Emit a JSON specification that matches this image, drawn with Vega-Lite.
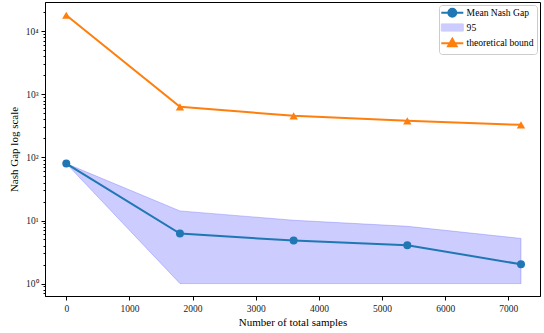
{
  "$schema": "https://vega.github.io/schema/vega-lite/v6.json",
  "width": 495,
  "height": 294,
  "autosize": {"type": "none"},
  "padding": {"left": 45, "top": 2, "right": 4, "bottom": 37},
  "background": "white",
  "config": {
    "font": "Liberation Serif",
    "view": {"stroke": "black", "strokeWidth": 1},
    "axis": {
      "grid": false,
      "domainColor": "black",
      "tickColor": "black",
      "labelColor": "#222",
      "labelFont": "Liberation Serif",
      "labelFontSize": 9.5,
      "titleFont": "Liberation Serif",
      "titleFontSize": 11,
      "titleFontWeight": "normal",
      "titleColor": "black"
    },
    "legend": {
      "orient": "top-right",
      "offset": 3,
      "padding": 3,
      "strokeColor": "#cccccc",
      "fillColor": "white",
      "cornerRadius": 3,
      "labelFont": "Liberation Serif",
      "labelFontSize": 9.6,
      "labelColor": "black",
      "symbolSize": 121,
      "rowPadding": 0.7,
      "labelOffset": 15
    }
  },
  "data": {
    "values": [
      {"samples": 0, "mean": 80, "lo": 80, "hi": 80, "bound": 18000},
      {"samples": 1800, "mean": 6.2, "lo": 1, "hi": 14.2, "bound": 635},
      {"samples": 3600, "mean": 4.8, "lo": 1, "hi": 10.1, "bound": 457},
      {"samples": 5400, "mean": 4.06, "lo": 1, "hi": 8.1, "bound": 381},
      {"samples": 7200, "mean": 2.02, "lo": 1, "hi": 5.2, "bound": 329}
    ]
  },
  "encoding": {
    "x": {
      "field": "samples",
      "type": "quantitative",
      "scale": {"domain": [-337, 7501], "nice": false, "zero": false},
      "axis": {
        "title": "Number of total samples",
        "values": [0, 1000, 2000, 3000, 4000, 5000, 6000, 7000],
        "format": "d",
        "tickSize": 4,
        "labelPadding": 3,
        "titlePadding": 4
      }
    }
  },
  "layer": [
    {
      "mark": {"type": "area", "fill": "blue", "fillOpacity": 0.2, "stroke": "blue", "strokeOpacity": 0.2, "strokeWidth": 1},
      "encoding": {
        "y": {
          "field": "lo",
          "type": "quantitative",
          "scale": {"type": "log", "domain": [0.635, 29200], "nice": false},
          "axis": {
            "title": "Nash Gap log scale",
            "values": [1, 10, 100, 1000, 10000],
            "labelExpr": "datum.value == 1 ? '10⁰' : datum.value == 10 ? '10¹' : datum.value == 100 ? '10²' : datum.value == 1000 ? '10³' : '10⁴'",
            "tickSize": 4,
            "labelPadding": 3,
            "titlePadding": 6
          }
        },
        "y2": {"field": "hi"},
        "color": {
          "datum": "95",
          "scale": {"domain": ["Mean Nash Gap", "95", "theoretical bound"], "range": ["#1f77b4", "#ccccff", "#ff7f0e"]},
          "legend": {
            "title": null,
            "symbolType": {"expr": "datum.value == '95' ? 'M-1,-0.65H3V0.65H-1Z' : datum.value == 'Mean Nash Gap' ? 'M-1,0H3M1.72,0A0.72,0.72 0 1,1 0.28,0A0.72,0.72 0 1,1 1.72,0Z' : 'M-1,0H3M1,-0.8L1.78,0.55L0.22,0.55Z'"},
            "symbolStrokeWidth": {"expr": "datum.value == '95' ? 1 : 2"},
            "symbolStrokeColor": {"expr": "datum.value == '95' ? '#a8a8ff' : datum.value == 'Mean Nash Gap' ? '#1f77b4' : '#ff7f0e'"},
            "symbolFillColor": {"expr": "datum.value == '95' ? '#ccccff' : datum.value == 'Mean Nash Gap' ? '#1f77b4' : '#ff7f0e'"},
            "symbolOpacity": 1
          }
        }
      }
    },
    {
      "mark": {"type": "line", "strokeWidth": 2},
      "encoding": {
        "y": {
          "field": "mean",
          "type": "quantitative",
          "axis": {
            "orient": "left",
            "title": null,
            "values": [0.7, 0.8, 0.9, 2, 3, 4, 5, 6, 7, 8, 9, 20, 30, 40, 50, 60, 70, 80, 90, 200, 300, 400, 500, 600, 700, 800, 900, 2000, 3000, 4000, 5000, 6000, 7000, 8000, 9000, 20000],
            "labels": false,
            "domain": false,
            "tickSize": 2
          }
        },
        "color": {"datum": "Mean Nash Gap"}
      }
    },
    {
      "mark": {"type": "point", "shape": "circle", "filled": true, "size": 64, "opacity": 1},
      "encoding": {
        "y": {"field": "mean", "type": "quantitative", "axis": null},
        "color": {"datum": "Mean Nash Gap"}
      }
    },
    {
      "mark": {"type": "line", "strokeWidth": 2},
      "encoding": {
        "y": {"field": "bound", "type": "quantitative", "axis": null},
        "color": {"datum": "theoretical bound"}
      }
    },
    {
      "mark": {"type": "point", "shape": "triangle-up", "filled": true, "size": 70, "opacity": 1},
      "encoding": {
        "y": {"field": "bound", "type": "quantitative", "axis": null},
        "color": {"datum": "theoretical bound"}
      }
    }
  ],
  "resolve": {"scale": {"y": "shared"}, "axis": {"y": "independent"}}
}
